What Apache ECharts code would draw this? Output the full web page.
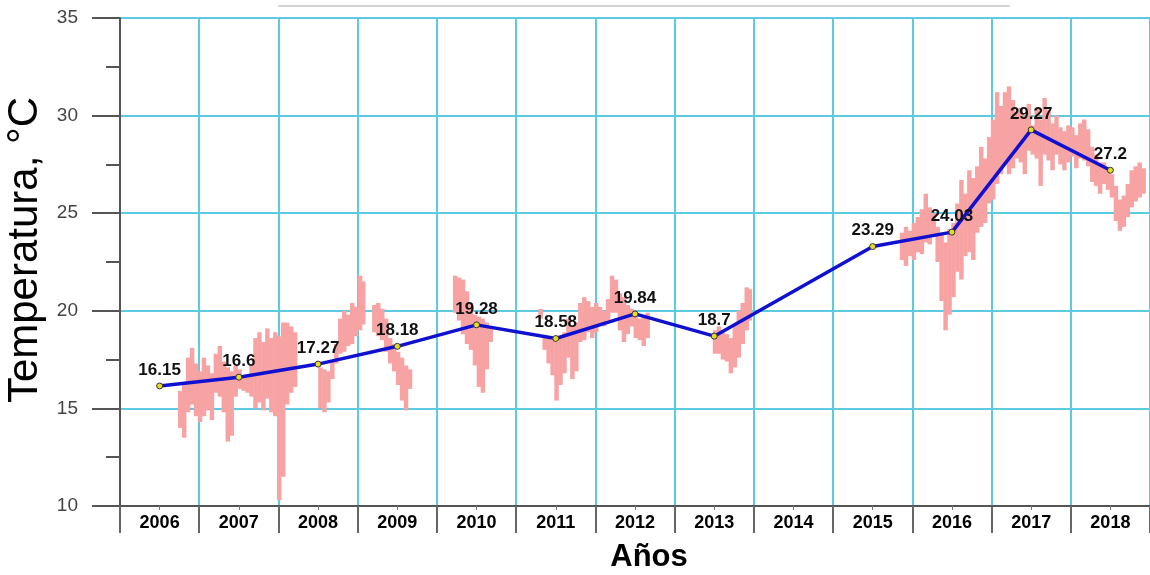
<!DOCTYPE html>
<html>
<head>
<meta charset="utf-8">
<script src="https://cdn.jsdelivr.net/npm/echarts@6/dist/echarts.min.js"></script>
<style>
html, body { margin: 0; padding: 0; background: #fff; }
#main { width: 1150px; height: 575px; }
</style>
</head>
<body>
<div id="main"></div>
<script>
// años y temperatura media anual
var years = ['2006', '2007', '2008', '2009', '2010', '2011', '2012', '2013', '2014', '2015', '2016', '2017', '2018'];
var meanTemp = [16.15, 16.6, 17.27, 18.18, 19.28, 18.58, 19.84, 18.7, null, 23.29, 24.03, 29.27, 27.2];

// registros diarios (rango min/max por columna)
var pinkYear = [
	2006.26, 2006.31, 2006.36, 2006.41, 2006.46, 2006.51, 2006.56, 2006.61, 2006.66, 2006.71, 2006.76, 2006.81, 2006.86, 2006.91, 2006.96,
	2007.01, 2007.06, 2007.11, 2007.16, 2007.21, 2007.26, 2007.31, 2007.36, 2007.41, 2007.46, 2007.51, 2007.56, 2007.61, 2007.66, 2007.71,
	2008.03, 2008.08, 2008.13, 2008.18, 2008.23, 2008.28, 2008.33, 2008.38, 2008.43, 2008.48, 2008.53, 2008.57,
	2008.71, 2008.76, 2008.81, 2008.86, 2008.91, 2008.96, 2009.01, 2009.06, 2009.11, 2009.16,
	2009.73, 2009.78, 2009.83, 2009.88, 2009.93, 2009.98, 2010.03, 2010.08, 2010.13, 2010.18,
	2010.81, 2010.86, 2010.91, 2010.96, 2011.01, 2011.06, 2011.11, 2011.16, 2011.21, 2011.26, 2011.31, 2011.36, 2011.41, 2011.46,
	2011.51, 2011.56, 2011.61, 2011.66, 2011.71, 2011.76, 2011.81, 2011.86, 2011.91, 2011.96, 2012.01, 2012.06, 2012.11, 2012.16,
	2013.01, 2013.06, 2013.11, 2013.16, 2013.21, 2013.26, 2013.31, 2013.36, 2013.41, 2013.45,
	2015.37, 2015.42, 2015.47, 2015.52, 2015.57, 2015.62, 2015.67, 2015.72, 2015.77, 2015.82, 2015.87, 2015.92, 2015.97,
	2016.02, 2016.07, 2016.12, 2016.17, 2016.22, 2016.27, 2016.32, 2016.37, 2016.42, 2016.47, 2016.52, 2016.57, 2016.62, 2016.67,
	2016.72, 2016.77, 2016.82, 2016.87, 2016.92, 2016.97, 2017.02, 2017.07, 2017.12, 2017.17, 2017.22, 2017.27, 2017.32, 2017.37,
	2017.42, 2017.47, 2017.52, 2017.57, 2017.62, 2017.67, 2017.72, 2017.77, 2017.82, 2017.87, 2017.92, 2017.97, 2018.02, 2018.07,
	2018.12, 2018.17, 2018.22, 2018.27, 2018.32, 2018.37, 2018.42
];
var pinkLow = [
	14.0, 13.5, 14.8, 15.2, 14.6, 14.3, 14.6, 14.9, 14.4, 15.8, 15.6, 14.8, 13.3, 13.6, 15.6,
	16.0, 15.9, 15.8, 15.6, 15.0, 15.3, 14.9, 15.5, 14.8, 14.6, 10.3, 11.5, 15.2, 15.8, 16.1,
	15.0, 14.8, 15.3, 16.5, 17.3, 17.8, 17.9, 18.2, 18.3, 18.7, 19.0, 19.3,
	18.9, 18.7, 18.5, 17.9, 17.3, 16.9, 16.2, 15.4, 14.9, 16.0,
	19.9, 19.5, 18.8, 18.3, 18.0, 17.2, 16.1, 15.8, 17.0, 18.4,
	19.6, 18.0, 17.3, 16.7, 15.4, 16.2, 16.8, 17.6, 16.5, 16.9, 18.4, 18.5, 18.9, 18.6,
	18.9, 19.3, 19.2, 19.5, 19.9, 19.9, 19.0, 18.4, 18.8, 19.2, 18.6, 18.5, 18.2, 18.6,
	17.8, 17.8, 17.5, 17.4, 16.8, 17.1, 17.6, 18.3, 19.0, 19.5,
	22.6, 22.3, 22.8, 22.6, 23.0, 22.9, 23.5, 23.4, 23.8, 22.5, 20.5, 19.0, 19.8,
	20.7, 22.0, 21.6, 22.8, 23.0, 22.6, 24.0, 24.3, 24.5, 25.5, 25.7, 26.5, 27.0, 27.5,
	27.0, 27.3, 27.8, 27.6, 27.0, 28.2, 28.0, 27.8, 26.4, 28.0, 27.7, 27.2, 28.0, 27.5,
	27.2, 27.6, 27.9, 27.3, 27.8, 27.7, 27.4, 26.6, 26.4, 26.0, 26.5, 26.2, 25.8, 24.6,
	24.1, 24.3, 24.8, 25.3, 25.6, 25.8, 26.0
];
var pinkHigh = [
	15.9, 16.3, 17.6, 18.1, 17.3, 16.9, 17.6, 17.2, 16.8, 17.8, 18.2, 17.4, 17.1, 16.9, 17.2,
	17.0, 16.7, 16.6, 17.2, 18.6, 18.9, 18.4, 19.1, 18.6, 18.9, 18.7, 19.4, 19.4, 19.2, 18.9,
	17.1, 17.0, 16.9, 17.4, 18.3, 19.6, 20.0, 19.8, 20.4, 20.2, 21.8, 21.5,
	20.3, 20.4, 20.1, 19.6, 18.6, 18.3, 17.9, 17.6, 17.2, 17.0,
	21.8, 21.7, 21.6, 21.0, 20.4, 19.8, 19.7, 19.6, 19.4, 19.2,
	20.1, 18.6, 18.7, 18.5, 18.4, 18.6, 18.9, 19.6, 19.2, 19.4, 20.4, 20.7, 20.5, 20.2,
	20.4, 20.2, 20.0, 20.6, 21.8, 21.6, 20.9, 20.7, 20.3, 20.1, 20.0, 19.6, 19.8, 19.9,
	19.0, 19.2, 18.9, 18.8, 18.6, 19.3, 20.0, 20.4, 21.2, 21.1,
	24.0, 24.3, 24.1, 24.5, 24.8, 25.2, 26.0, 25.3, 25.0, 24.3, 24.0, 23.5, 24.2,
	24.5, 25.5, 26.7, 26.0, 27.2, 26.8, 27.4, 28.4, 27.8, 28.9, 29.8, 31.2, 30.5, 31.2,
	31.5, 30.8, 30.2, 30.4, 30.0, 30.6, 29.5, 30.4, 29.8, 30.9, 30.3, 29.6, 30.0, 29.4,
	29.2, 29.5, 29.4, 29.0, 29.6, 29.8, 29.3, 28.4, 28.0, 27.6, 27.6, 27.3, 27.0, 26.4,
	25.7, 25.9, 26.5, 27.2, 27.4, 27.6, 27.3
];

var pinkData = [];
for (var i = 0; i < pinkYear.length; i++) {
	pinkData.push([pinkYear[i], pinkLow[i], pinkHigh[i]]);
}

var myChart = echarts.init(document.getElementById('main'));
var font = 'Liberation Sans, Arial, sans-serif';

var option = {
	animation: false,
	textStyle: { fontFamily: font },
	graphic: [{
		type: 'line',
		shape: { x1: 278, y1: 6, x2: 1010, y2: 6 },
		style: { stroke: '#aaaaaa', lineWidth: 1 }
	}],
	grid: { left: 120, right: 0, top: 18, bottom: 69, containLabel: false, outerBoundsMode: 'none' },
	xAxis: [{
		type: 'category',
		data: years,
		name: 'Años',
		nameLocation: 'middle',
		nameGap: 36,
		nameTextStyle: { fontSize: 31, fontWeight: 'bold', color: '#000', padding: [0, 0, 0, 28] },
		axisLine: { show: true, lineStyle: { color: '#555', width: 2 } },
		axisTick: { show: true, interval: 0, length: 27, lineStyle: { color: '#666', width: 2 } },
		axisLabel: { fontSize: 18, fontWeight: 'bold', color: '#000', margin: 8 },
		splitLine: { show: true, interval: 0, lineStyle: { color: '#5ccbe2', width: 2 } }
	}, {
		type: 'value',
		min: 2005.5,
		max: 2018.5,
		position: 'bottom',
		offset: 0,
		axisLine: { show: false },
		axisLabel: { show: false },
		splitLine: { show: false },
		axisTick: {
			show: true,
			customValues: years.map(Number),
			length: 4,
			lineStyle: { color: '#777', width: 1 }
		}
	}],
	yAxis: {
		type: 'value',
		min: 10,
		max: 35,
		interval: 5,
		name: 'Temperatura, °C',
		nameLocation: 'middle',
		nameGap: 69,
		nameTextStyle: { fontSize: 42, color: '#000', padding: [0, 0, 0, 24] },
		axisLine: { show: true, lineStyle: { color: '#555', width: 2 } },
		axisTick: { show: true, length: 28, lineStyle: { color: '#555', width: 2 } },
		minorTick: { show: true, splitNumber: 2, length: 14, lineStyle: { color: '#555', width: 2 } },
		axisLabel: { fontSize: 19, color: '#444', margin: 42 },
		splitLine: { show: true, lineStyle: { color: '#5ccbe2', width: 2 } }
	},
	series: [{
		name: 'diario',
		type: 'custom',
		xAxisIndex: 1,
		data: pinkData,
		z: 1,
		renderItem: function (params, api) {
			var x = api.value(0);
			var top = api.coord([x, api.value(2)]);
			var bottom = api.coord([x, api.value(1)]);
			var w = api.size([0.05, 0])[0] + 0.5;
			return {
				type: 'rect',
				shape: { x: top[0] - w / 2, y: top[1], width: w, height: bottom[1] - top[1] },
				style: { fill: '#f7a3a3' }
			};
		}
	}, {
		name: 'media',
		type: 'line',
		data: meanTemp,
		connectNulls: true,
		z: 3,
		symbol: 'circle',
		symbolSize: 6,
		lineStyle: { color: '#1010d0', width: 3.5 },
		itemStyle: { color: '#e6dd22', borderColor: '#333', borderWidth: 1 },
		label: {
			show: true,
			position: 'top',
			distance: 4,
			fontSize: 17,
			fontWeight: 'bold',
			color: '#111'
		}
	}]
};

myChart.setOption(option);
</script>
</body>
</html>
